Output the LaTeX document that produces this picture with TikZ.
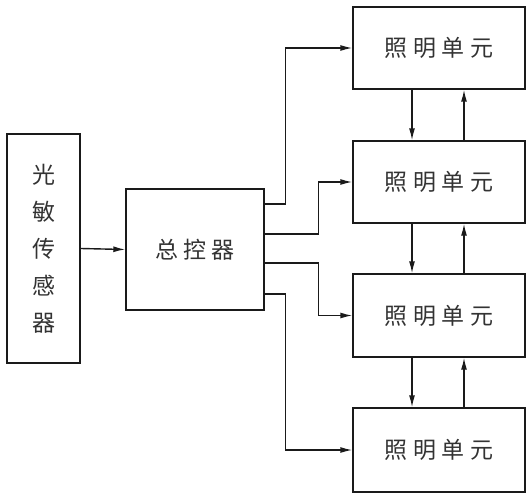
\documentclass[tikz,border=0pt]{standalone}
\usepackage{fontspec}
\newfontfamily\cjk{Noto Sans CJK SC}
\usetikzlibrary{arrows.meta,calc}
\definecolor{txt}{HTML}{333333}
\definecolor{ln}{HTML}{1A1A1A}
\tikzset{
  box/.style={draw=ln,line width=1.4pt,inner sep=0pt,text=txt,font=\cjk\fontsize{23}{26}\selectfont},
  arr/.style={draw=ln,line width=1.4pt,-{Latex[length=12pt,width=6pt]}},
}
\newcommand\gapc{\hspace{5.5pt}}
\begin{document}
\begin{tikzpicture}[x=1pt,y=-1pt]
\useasboundingbox (0,0) rectangle (532,500);
\node[box,minimum width=73pt,minimum height=229pt,align=center,
      font=\cjk\fontsize{23}{37}\selectfont] (sensor) at (43.5,248.5) {光\\敏\\传\\感\\器};
\node[box,minimum width=138pt,minimum height=121pt] (ctrl) at (195,249.5) {总\gapc 控\gapc 器};
\node[box,minimum width=172pt,minimum height=82pt] (L1) at (439,48) {照\gapc 明\gapc 单\gapc 元};
\node[box,minimum width=172pt,minimum height=82pt] (L2) at (439,182) {照\gapc 明\gapc 单\gapc 元};
\node[box,minimum width=172pt,minimum height=83pt] (L3) at (439,315.5) {照\gapc 明\gapc 单\gapc 元};
\node[box,minimum width=172pt,minimum height=84pt] (L4) at (439,450) {照\gapc 明\gapc 单\gapc 元};
\draw[arr] (sensor.east) -- (ctrl.west);
\draw[arr] (ctrl.east |- 0,204) -- ++(21,0) |- (L1.west);
\draw[arr] (ctrl.east |- 0,234) -- ++(54,0) |- (L2.west);
\draw[arr] (ctrl.east |- 0,263) -- ++(54,0) |- (L3.west);
\draw[arr] (ctrl.east |- 0,294) -- ++(21,0) |- (L4.west);
\foreach \a/\b in {L1/L2,L2/L3,L3/L4}{
  \draw[arr] ($(\a.south)+(-27,0)$) -- ($(\b.north)+(-27,0)$);
  \draw[arr] ($(\b.north)+(25,0)$) -- ($(\a.south)+(25,0)$);
}
\end{tikzpicture}
\end{document}
